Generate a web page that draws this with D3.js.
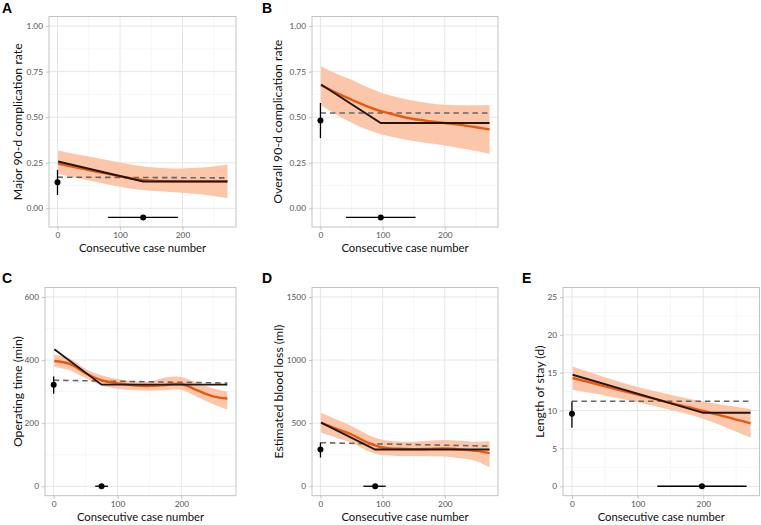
<!DOCTYPE html>
<html>
<head>
<meta charset="utf-8">
<script src="https://cdn.jsdelivr.net/npm/d3@7"></script>
<style>
  html, body { margin: 0; padding: 0; background: #fff; }
  svg { display: block; }
  text { font-family: Lato, "Open Sans", sans-serif; }
</style>
</head>
<body>
<svg id="chart" width="761" height="525"></svg>
<script>
// ---------------- DATA ----------------
const xTicks = [0, 100, 200];
const xMinor = [50, 150, 250];
const xTitle = "Consecutive case number";

const panelLetters = ["A", "B", "C", "D", "E"];
const yTitles = [
  "Major 90-d complication rate",
  "Overall 90-d complication rate",
  "Operating time (min)",
  "Estimated blood loss (ml)",
  "Length of stay (d)"
];
const yTicksA = [0, 0.25, 0.5, 0.75, 1.0];
const yTickLabelsA = ["0.00", "0.25", "0.50", "0.75", "1.00"];
const yTicksB = [0, 0.25, 0.5, 0.75, 1.0];
const yTickLabelsB = ["0.00", "0.25", "0.50", "0.75", "1.00"];
const yTicksC = [0, 200, 400, 600];
const yTickLabelsC = ["0", "200", "400", "600"];
const yTicksD = [0, 500, 1000, 1500];
const yTickLabelsD = ["0", "500", "1000", "1500"];
const yTicksE = [0, 5, 10, 15, 20, 25];
const yTickLabelsE = ["0", "5", "10", "15", "20", "25"];

// smooth fit (orange) and its confidence ribbon
const caseGrid = [1, 25, 50, 75, 100, 125, 150, 175, 200, 225, 250, 272];

const fitA   = [0.245, 0.228, 0.210, 0.193, 0.176, 0.161, 0.151, 0.149, 0.148, 0.148, 0.148, 0.148];
const upperA = [0.317, 0.300, 0.285, 0.268, 0.252, 0.236, 0.225, 0.220, 0.219, 0.222, 0.230, 0.240];
const lowerA = [0.190, 0.170, 0.152, 0.135, 0.118, 0.104, 0.096, 0.091, 0.086, 0.078, 0.067, 0.055];

const fitB   = [0.675, 0.635, 0.596, 0.560, 0.530, 0.508, 0.490, 0.478, 0.468, 0.458, 0.445, 0.433];
const upperB = [0.780, 0.740, 0.705, 0.665, 0.632, 0.608, 0.590, 0.577, 0.568, 0.565, 0.565, 0.567];
const lowerB = [0.565, 0.515, 0.470, 0.432, 0.403, 0.385, 0.370, 0.357, 0.345, 0.330, 0.315, 0.300];

const fitC   = [397, 388, 358, 336, 326, 320, 318, 321, 324, 304, 285, 278];
const upperC = [417, 405, 372, 352, 340, 333, 331, 345, 346, 327, 310, 300];
const lowerC = [378, 368, 343, 320, 309, 304, 303, 304, 305, 283, 260, 243];

const fitD   = [504, 456, 410, 348, 307, 297, 294, 296, 299, 292, 280, 262];
const upperD = [582, 530, 477, 412, 368, 355, 353, 360, 367, 360, 352, 359];
const lowerD = [425, 385, 346, 282, 247, 240, 240, 238, 236, 222, 200, 150];

const caseGridE = [1, 50, 100, 150, 200, 272];
const fitE   = [14.3, 13.2, 12.1, 11.0, 9.95, 8.3];
const upperE = [15.8, 14.4, 13.1, 12.1, 11.2, 10.2];
const lowerE = [12.7, 12.0, 11.1, 10.1, 8.9, 6.4];

// segmented regression (black): start, breakpoint, end
const segCaseA = [1, 137, 272]; const segA = [0.257, 0.147, 0.147];
const segCaseB = [1, 97, 272];  const segB = [0.679, 0.468, 0.468];
const segCaseC = [1, 75, 272];  const segC = [434, 322, 322];
const segCaseD = [1, 88, 272];  const segD = [504, 291, 291];
const segCaseE = [1, 200, 272]; const segE = [14.73, 9.7, 9.7];

// dashed overall reference (start, end)
const refCase = [0, 272];
const refA = [0.171, 0.167];
const refB = [0.523, 0.523];
const refC = [336, 327];
const refD = [345, 318];
const refE = [11.23, 11.23];

// baseline point estimate at case 0 with CI [estimate, low, high]
const baseA = [0.143, 0.073, 0.211];
const baseB = [0.482, 0.385, 0.578];
const baseC = [322, 293, 348];
const baseD = [292, 228, 346];
const baseE = [9.57, 7.74, 11.2];

// breakpoint estimate with CI [estimate, low, high] and its y level
const breakA = [137, 81, 193];  const breakYA = -0.05;
const breakB = [97, 41, 153];   const breakYB = -0.05;
const breakC = [75, 65, 85];    const breakYC = 0;
const breakD = [88, 69, 105];   const breakYD = 0;
const breakE = [198, 130, 266]; const breakYE = 0;

// ---------------- LAYOUT ----------------
const panels = [
  {letter: panelLetters[0], ytitle: yTitles[0], yt: yTicksA, ytl: yTickLabelsA, ydom: [-0.1025, 1.0525],
   grid: caseGrid, fit: fitA, up: upperA, lo: lowerA, segX: segCaseA, seg: segA, ref: refA, base: baseA, brk: breakA, brkY: breakYA,
   box: {x0: 49, x1: 236, y0: 16.5, y1: 227}, ytx: 18, lx: 2, ly: 13},
  {letter: panelLetters[1], ytitle: yTitles[1], yt: yTicksB, ytl: yTickLabelsB, ydom: [-0.1025, 1.0525],
   grid: caseGrid, fit: fitB, up: upperB, lo: lowerB, segX: segCaseB, seg: segB, ref: refB, base: baseB, brk: breakB, brkY: breakYB,
   box: {x0: 312, x1: 498, y0: 16.5, y1: 227}, ytx: 278, lx: 262, ly: 13},
  {letter: panelLetters[2], ytitle: yTitles[2], yt: yTicksC, ytl: yTickLabelsC, ydom: [-30, 630],
   grid: caseGrid, fit: fitC, up: upperC, lo: lowerC, segX: segCaseC, seg: segC, ref: refC, base: baseC, brk: breakC, brkY: breakYC,
   box: {x0: 45, x1: 236, y0: 287.5, y1: 495.7}, ytx: 18, lx: 2, ly: 283},
  {letter: panelLetters[3], ytitle: yTitles[3], yt: yTicksD, ytl: yTickLabelsD, ydom: [-75, 1575],
   grid: caseGrid, fit: fitD, up: upperD, lo: lowerD, segX: segCaseD, seg: segD, ref: refD, base: baseD, brk: breakD, brkY: breakYD,
   box: {x0: 312, x1: 498, y0: 287.5, y1: 495.7}, ytx: 279, lx: 262, ly: 283},
  {letter: panelLetters[4], ytitle: yTitles[4], yt: yTicksE, ytl: yTickLabelsE, ydom: [-1.25, 26.25],
   grid: caseGridE, fit: fitE, up: upperE, lo: lowerE, segX: segCaseE, seg: segE, ref: refE, base: baseE, brk: breakE, brkY: breakYE,
   box: {x0: 563, x1: 759.5, y0: 287.5, y1: 495.7}, ytx: 540, lx: 522, ly: 283}
];

const xDomain = [-13.6, 285.6];
const svg = d3.select("#chart");

const ORANGE = "#e8590c";
const RIBBON = "#fbc3a4";
const DARK = "#231510";

panels.forEach(p => {
  const b = p.box;
  const x = d3.scaleLinear().domain(xDomain).range([b.x0, b.x1]);
  const y = d3.scaleLinear().domain(p.ydom).range([b.y1, b.y0]);
  const g = svg.append("g");

  g.append("rect").attr("x", b.x0).attr("y", b.y0).attr("width", b.x1 - b.x0).attr("height", b.y1 - b.y0)
    .attr("fill", "#fff");

  // minor grid
  const yMinor = [];
  for (let i = 0; i < p.yt.length - 1; i++) yMinor.push((p.yt[i] + p.yt[i + 1]) / 2);
  g.selectAll(".xminor").data(xMinor).join("line")
    .attr("x1", d => x(d)).attr("x2", d => x(d)).attr("y1", b.y0).attr("y2", b.y1)
    .attr("stroke", "#f2f2f2").attr("stroke-width", 0.6);
  g.selectAll(".yminor").data(yMinor).join("line")
    .attr("y1", d => y(d)).attr("y2", d => y(d)).attr("x1", b.x0).attr("x2", b.x1)
    .attr("stroke", "#f2f2f2").attr("stroke-width", 0.6);
  // major grid
  g.selectAll(".xmajor").data(xTicks).join("line")
    .attr("x1", d => x(d)).attr("x2", d => x(d)).attr("y1", b.y0).attr("y2", b.y1)
    .attr("stroke", "#e3e3e3").attr("stroke-width", 0.9);
  g.selectAll(".ymajor").data(p.yt).join("line")
    .attr("y1", d => y(d)).attr("y2", d => y(d)).attr("x1", b.x0).attr("x2", b.x1)
    .attr("stroke", "#e3e3e3").attr("stroke-width", 0.9);

  // ribbon
  const ribbonData = p.grid.map((c, i) => ({c, lo: p.lo[i], up: p.up[i]}));
  g.append("path").datum(ribbonData)
    .attr("d", d3.area().x(d => x(d.c)).y0(d => y(d.lo)).y1(d => y(d.up)).curve(d3.curveCatmullRom))
    .attr("fill", RIBBON).attr("opacity", 0.95);

  // dashed reference
  g.append("path").datum(refCase.map((c, i) => ({c, v: p.ref[i]})))
    .attr("d", d3.line().x(d => x(d.c)).y(d => y(d.v)))
    .attr("fill", "none").attr("stroke", "#676767").attr("stroke-width", 1.6)
    .attr("stroke-dasharray", "5.5,4");

  // orange fit
  g.append("path").datum(p.grid.map((c, i) => ({c, v: p.fit[i]})))
    .attr("d", d3.line().x(d => x(d.c)).y(d => y(d.v)).curve(d3.curveCatmullRom))
    .attr("fill", "none").attr("stroke", ORANGE).attr("stroke-width", 2.4);

  // segmented line
  g.append("path").datum(p.segX.map((c, i) => ({c, v: p.seg[i]})))
    .attr("d", d3.line().x(d => x(d.c)).y(d => y(d.v)))
    .attr("fill", "none").attr("stroke", DARK).attr("stroke-width", 1.9);

  // baseline point + CI
  g.append("line").attr("x1", x(0)).attr("x2", x(0)).attr("y1", y(p.base[1])).attr("y2", y(p.base[2]))
    .attr("stroke", "#000").attr("stroke-width", 1.3);
  g.append("circle").attr("cx", x(0)).attr("cy", y(p.base[0])).attr("r", 3).attr("fill", "#000");

  // breakpoint + CI
  g.append("line").attr("x1", x(p.brk[1])).attr("x2", x(p.brk[2])).attr("y1", y(p.brkY)).attr("y2", y(p.brkY))
    .attr("stroke", "#000").attr("stroke-width", 1.3);
  g.append("circle").attr("cx", x(p.brk[0])).attr("cy", y(p.brkY)).attr("r", 3).attr("fill", "#000");

  // border
  g.append("rect").attr("x", b.x0).attr("y", b.y0).attr("width", b.x1 - b.x0).attr("height", b.y1 - b.y0)
    .attr("fill", "none").attr("stroke", "#bdbdbd").attr("stroke-width", 0.9);

  // axes
  const yAxis = d3.axisLeft(y).tickValues(p.yt).tickFormat((d, i) => p.ytl[i]).tickSize(3).tickPadding(3);
  const ya = g.append("g").attr("transform", `translate(${b.x0},0)`).call(yAxis);
  const xAxis = d3.axisBottom(x).tickValues(xTicks).tickFormat(d3.format("d")).tickSize(3).tickPadding(2);
  const xa = g.append("g").attr("transform", `translate(0,${b.y1})`).call(xAxis);
  [ya, xa].forEach(a => {
    a.select(".domain").remove();
    a.selectAll(".tick line").attr("stroke", "#bdbdbd").attr("stroke-width", 0.9);
    a.selectAll(".tick text").attr("fill", "#555").style("font-size", "8.3px").style("font-family", "Lato, sans-serif");
  });

  // axis titles
  g.append("text").attr("x", (b.x0 + b.x1) / 2).attr("y", b.y1 + 25).attr("text-anchor", "middle")
    .style("font-size", "11.3px").attr("fill", "#111").text(xTitle);
  g.append("text").attr("transform", `translate(${p.ytx},${(b.y0 + b.y1) / 2}) rotate(-90)`)
    .attr("text-anchor", "middle").attr("dy", "0.35em")
    .style("font-size", "12.3px").attr("fill", "#111").text(p.ytitle);

  // panel letter
  g.append("text").attr("x", p.lx).attr("y", p.ly).style("font-size", "14px").style("font-weight", "bold")
    .style("font-family", "'Liberation Sans', Arial, sans-serif").attr("fill", "#000").text(p.letter);
});
</script>
</body>
</html>
